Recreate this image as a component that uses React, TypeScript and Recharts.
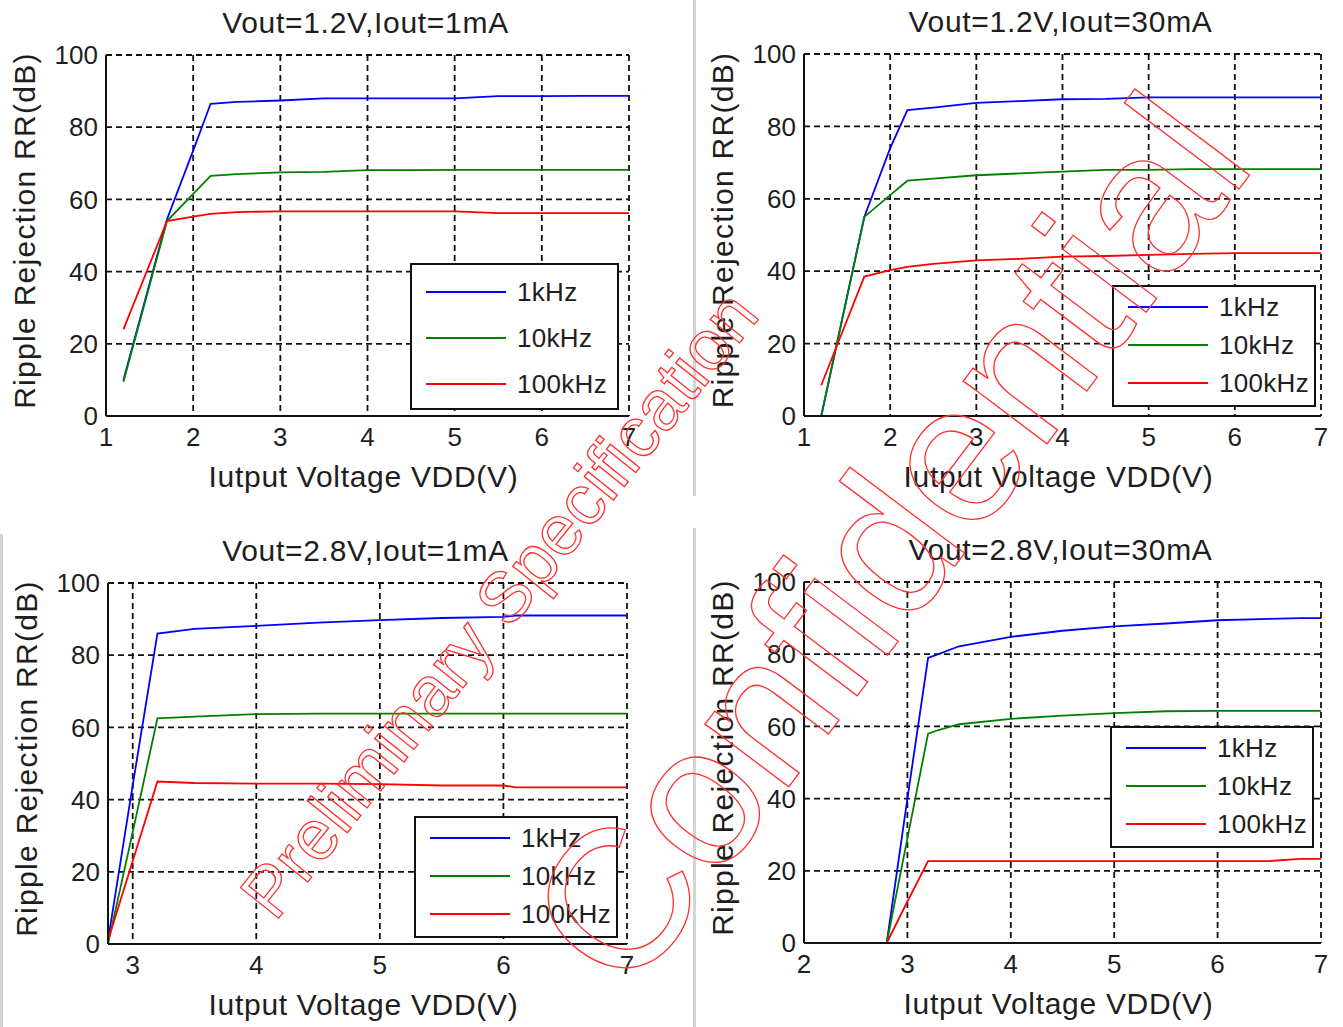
import React from 'react'
import { LineChart, Line, XAxis, YAxis, CartesianGrid, Legend } from 'recharts'

const W = 1343
const H = 1027
const FONT = '"Liberation Sans", Arial, Helvetica, sans-serif'
const INK = '#1e1e1e'

const seriesNames = ['1kHz', '10kHz', '100kHz']
const seriesColors = ['#0000ff', '#008000', '#ff0000']
const yTicks = [0, 20, 40, 60, 80, 100]

// Vout=1.2V, Iout=1mA
const vdd1 = [1.2, 1.7, 2.0, 2.2, 2.5, 3, 3.5, 4, 4.5, 5, 5.5, 6, 6.5, 7]
const rr1k1 = [10, 54.5, 73.5, 86.5, 87, 87.4, 88, 88, 88, 88, 88.6, 88.6, 88.7, 88.7]
const rr10k1 = [9.5, 54, 61.5, 66.5, 67, 67.5, 67.6, 68.1, 68.1, 68.2, 68.2, 68.2, 68.2, 68.2]
const rr100k1 = [24, 54, 55.2, 56, 56.5, 56.7, 56.7, 56.7, 56.7, 56.7, 56.2, 56.2, 56.2, 56.2]

// Vout=1.2V, Iout=30mA
const vdd2 = [1.2, 1.4, 1.7, 2.0, 2.2, 2.5, 3, 3.5, 4, 4.5, 5, 5.5, 6, 6.5, 7]
const rr1k2 = [0, 22, 55, 74, 84.5, 85.2, 86.5, 87, 87.5, 87.6, 88, 88, 88, 88, 88]
const rr10k2 = [0, 22, 55, 61, 65, 65.6, 66.5, 67, 67.5, 68, 68, 68.2, 68.2, 68.2, 68.2]
const rr100k2 = [8.5, 20.5, 38.5, 40.3, 41.2, 42, 43, 43.4, 44, 44.2, 44.5, 44.8, 45, 45, 45]

// Vout=2.8V, Iout=1mA
const vdd3 = [2.8, 3.0, 3.2, 3.5, 4, 4.5, 5, 5.5, 6, 6.1, 6.5, 7]
const rr1k3 = [1, 44, 86, 87.3, 88.1, 89, 89.7, 90.3, 90.6, 91, 91, 91]
const rr10k3 = [0, 31, 62.5, 63, 63.7, 63.8, 63.8, 63.8, 63.8, 63.8, 63.8, 63.8]
const rr100k3 = [1, 23, 45, 44.6, 44.4, 44.4, 44.3, 43.9, 43.9, 43.4, 43.4, 43.4]

// Vout=2.8V, Iout=30mA
const vdd4 = [2.8, 3.0, 3.2, 3.3, 3.5, 4, 4.5, 5, 5.5, 6, 6.5, 6.8, 7]
const rr1k4 = [0, 40, 79, 80, 82.2, 84.8, 86.5, 87.7, 88.5, 89.4, 89.8, 90, 90]
const rr10k4 = [0, 29, 58, 59, 60.6, 62.1, 63, 63.7, 64.2, 64.3, 64.3, 64.3, 64.3]
const rr100k4 = [0, 11.5, 22.7, 22.7, 22.7, 22.7, 22.7, 22.7, 22.7, 22.7, 22.7, 23.3, 23.3]

const ticks17 = [1, 2, 3, 4, 5, 6, 7]
const ticks37 = [3, 4, 5, 6, 7]
const ticks27 = [2, 3, 4, 5, 6, 7]

type Rect = { l: number; t: number; r: number; b: number }
type LegendBoxSpec = { x: number; y: number; w: number; h: number; first: number; gap: number }

const panels = [
  {
    title: 'Vout=1.2V,Iout=1mA', vdd: vdd1, series: [rr1k1, rr10k1, rr100k1],
    domain: [1, 7], ticks: ticks17,
    plot: { l: 106, t: 55, r: 629, b: 416 },
    legend: { x: 410, y: 263, w: 209, h: 147, first: 29, gap: 46 },
  },
  {
    title: 'Vout=1.2V,Iout=30mA', vdd: vdd2, series: [rr1k2, rr10k2, rr100k2],
    domain: [1, 7], ticks: ticks17,
    plot: { l: 804, t: 54, r: 1321, b: 416 },
    legend: { x: 1112, y: 285, w: 204, h: 122, first: 22, gap: 38 },
  },
  {
    title: 'Vout=2.8V,Iout=1mA', vdd: vdd3, series: [rr1k3, rr10k3, rr100k3],
    domain: [2.8, 7], ticks: ticks37,
    plot: { l: 108, t: 583, r: 627, b: 944 },
    legend: { x: 414, y: 816, w: 204, h: 122, first: 22, gap: 38 },
  },
  {
    title: 'Vout=2.8V,Iout=30mA', vdd: vdd4, series: [rr1k4, rr10k4, rr100k4],
    domain: [2, 7], ticks: ticks27,
    plot: { l: 804, t: 582, r: 1321, b: 943 },
    legend: { x: 1110, y: 726, w: 204, h: 122, first: 22, gap: 38 },
  },
]

function LegendBox({ payload, spec }: { payload?: any[]; spec: LegendBoxSpec }) {
  const items = [...(payload || [])].sort(
    (a, b) => seriesNames.indexOf(a.value) - seriesNames.indexOf(b.value)
  )
  return (
    <div style={{
      position: 'relative', width: spec.w, height: spec.h, boxSizing: 'border-box',
      border: '2px solid #111', background: '#fff', fontFamily: FONT,
    }}>
      {items.map((it, i) => (
        <div key={it.value} style={{
          position: 'absolute', left: 14, top: spec.first + i * spec.gap - 2 - 16,
          height: 32, display: 'flex', alignItems: 'center',
        }}>
          <span style={{ display: 'inline-block', width: 80, borderTop: `2px solid ${it.color}` }} />
          <span style={{ marginLeft: 11, fontSize: 26, color: INK, lineHeight: '32px', letterSpacing: 0.3 }}>{it.value}</span>
        </div>
      ))}
    </div>
  )
}

function Panel({ p }: { p: (typeof panels)[number] }) {
  const data = p.vdd.map((v, i) => ({ v, a: p.series[0][i], b: p.series[1][i], c: p.series[2][i] }))
  const yw = 60
  const xh = 40
  const r: Rect = p.plot
  const tickStyle = { fill: INK, fontSize: 26, fontFamily: FONT }
  return (
    <div style={{ position: 'absolute', left: 0, top: 0 }}>
      <LineChart
        width={W} height={H} data={data}
        margin={{ left: r.l - yw, top: r.t, right: W - r.r, bottom: H - r.b - xh }}
      >
        <CartesianGrid stroke="#111" strokeDasharray="6 4" strokeWidth={1.8} />
        <XAxis
          dataKey="v" type="number" domain={p.domain} ticks={p.ticks} allowDataOverflow
          height={xh} tickLine={false} tickMargin={6} tick={tickStyle}
          axisLine={{ stroke: '#111', strokeWidth: 2 }}
        />
        <YAxis
          type="number" domain={[0, 100]} ticks={yTicks} width={yw}
          tickLine={false} tick={tickStyle}
          axisLine={{ stroke: '#111', strokeWidth: 2 }}
        />
        {['a', 'b', 'c'].map((k, i) => (
          <Line key={k} dataKey={k} name={seriesNames[i]} type="linear" stroke={seriesColors[i]}
            strokeWidth={1.8} dot={false} isAnimationActive={false} />
        ))}
        <Legend
          layout="vertical" align="center" verticalAlign="middle"
          wrapperStyle={{ left: p.legend.x, top: p.legend.y, width: p.legend.w, height: p.legend.h }}
          content={(props: any) => <LegendBox payload={props.payload} spec={p.legend} />}
        />
      </LineChart>
    </div>
  )
}

export default function App() {
  return (
    <div style={{ position: 'absolute', left: 0, top: 0, width: W, height: H, background: '#fff', overflow: 'hidden' }}>
      <div style={{ position: 'absolute', left: 693, top: 0, width: 3, height: 496, background: '#d4d4d4' }} />
      <div style={{ position: 'absolute', left: 693, top: 528, width: 3, height: 499, background: '#d4d4d4' }} />
      <div style={{ position: 'absolute', left: 0, top: 534, width: 3, height: 493, background: '#d4d4d4' }} />
      {panels.map((p) => <Panel key={p.title} p={p} />)}
      <svg width={W} height={H} style={{ position: 'absolute', left: 0, top: 0, pointerEvents: 'none' }}
        fontFamily={FONT}>
        {panels.map((p) => {
          const cx = (p.plot.l + p.plot.r) / 2
          const cy = (p.plot.t + p.plot.b) / 2
          return (
            <g key={p.title} fill={INK} fontSize={30}>
              <text x={cx - 2} y={p.plot.t - 33} textAnchor="middle" dominantBaseline="central"
                letterSpacing={0.7}>{p.title}</text>
              <text x={cx - 4} y={p.plot.b + 60} textAnchor="middle" dominantBaseline="central"
                letterSpacing={0.7}>Iutput Voltage VDD(V)</text>
              <text x={p.plot.l - 82} y={cy - 5} textAnchor="middle" dominantBaseline="central"
                letterSpacing={1.3}
                transform={`rotate(-90 ${p.plot.l - 82} ${cy - 5})`}>Ripple Rejection RR(dB)</text>
            </g>
          )
        })}
        <g fill="none" stroke="#ff3030" strokeWidth={1.3}>
          <text x={499} y={604} fontSize={71} textAnchor="middle" dominantBaseline="central"
            transform="rotate(-51.3 499 604)">Preliminary Specification</text>
          <text x={888} y={541} fontSize={198} textAnchor="middle" dominantBaseline="central"
            transform="rotate(-53 888 541)">Confidential</text>
        </g>
      </svg>
    </div>
  )
}
